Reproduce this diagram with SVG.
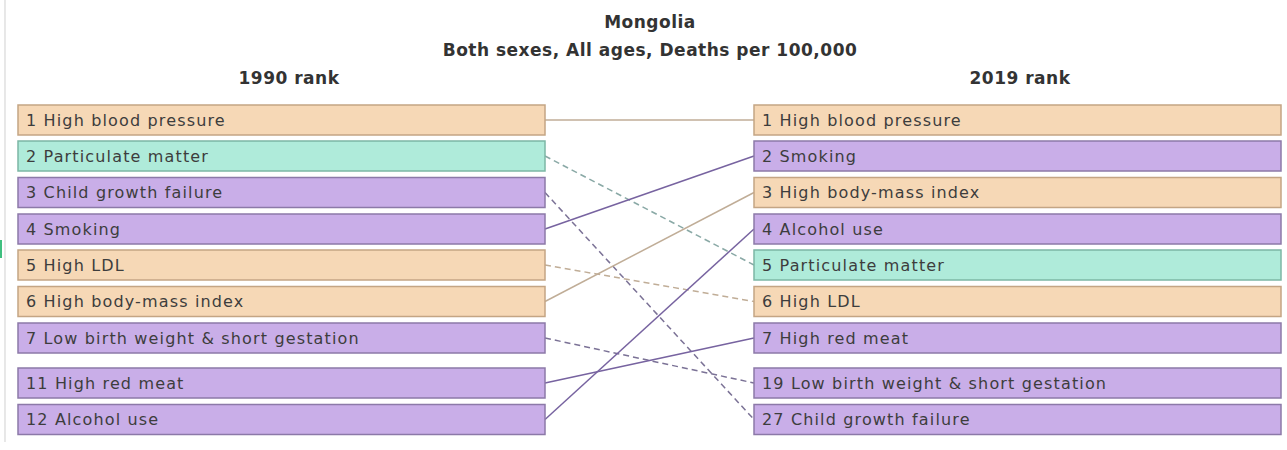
<svg xmlns="http://www.w3.org/2000/svg" width="1287" height="450" viewBox="0 0 1287 450">
<style>
  text { font-family: "DejaVu Sans", Verdana, sans-serif; fill: #3a3a3a; }
  .title { font-size: 17px; font-weight: bold; text-anchor: middle; fill: #333; letter-spacing: 0.5px; }
  .lbl { font-size: 16px; fill: #3d3d3d; letter-spacing: 1.15px; }
  .tan { fill: #f6d8b6; stroke: #c4a584; stroke-width: 1.5; }
  .pur { fill: #c9aee8; stroke: #8c79a8; stroke-width: 1.5; }
  .teal { fill: #afebda; stroke: #7cb7a5; stroke-width: 1.5; }
  .c { fill: none; stroke-width: 1.5; }
  .d { stroke-dasharray: 6 4; }
  .ctan { stroke: #c0ad97; }
  .cpur { stroke: #7763a0; }
  .cteal { stroke: #8aa9a6; }
  .cdpur { stroke: #7b7296; }
</style>
<rect x="0" y="0" width="1287" height="450" fill="#ffffff"/>
<line x1="5" y1="0" x2="5" y2="442" stroke="#d8d8d8" stroke-width="1.2"/>
<rect x="0" y="240" width="2" height="18" fill="#3fbf7f"/>

<g id="titles">
  <text class="title" x="650" y="28">Mongolia</text>
  <text class="title" x="650" y="56">Both sexes, All ages, Deaths per 100,000</text>
  <text class="title" x="289" y="84">1990 rank</text>
  <text class="title" x="1020" y="84">2019 rank</text>
</g>

<g id="connectors">
  <line class="c ctan" x1="545" y1="120" x2="754" y2="120"/>
  <line class="c cteal d" x1="545" y1="156" x2="754" y2="265"/>
  <line class="c cdpur d" x1="545" y1="192.5" x2="754" y2="419.5"/>
  <line class="c cpur" x1="545" y1="229" x2="754" y2="156"/>
  <line class="c ctan d" x1="545" y1="265" x2="754" y2="301.5"/>
  <line class="c ctan" x1="545" y1="301.5" x2="754" y2="192.5"/>
  <line class="c cdpur d" x1="545" y1="338" x2="754" y2="383"/>
  <line class="c cpur" x1="545" y1="383" x2="754" y2="338"/>
  <line class="c cpur" x1="545" y1="419.5" x2="754" y2="229"/>
</g>

<g id="l1"><rect class="tan" x="18" y="105" width="527" height="30"/><text class="lbl" x="26" y="125.5">1 High blood pressure</text></g>
<g id="l2"><rect class="teal" x="18" y="141" width="527" height="30"/><text class="lbl" x="26" y="161.5">2 Particulate matter</text></g>
<g id="l3"><rect class="pur" x="18" y="177.5" width="527" height="30"/><text class="lbl" x="26" y="198">3 Child growth failure</text></g>
<g id="l4"><rect class="pur" x="18" y="214" width="527" height="30"/><text class="lbl" x="26" y="234.5">4 Smoking</text></g>
<g id="l5"><rect class="tan" x="18" y="250" width="527" height="30"/><text class="lbl" x="26" y="270.5">5 High LDL</text></g>
<g id="l6"><rect class="tan" x="18" y="286.5" width="527" height="30"/><text class="lbl" x="26" y="307">6 High body-mass index</text></g>
<g id="l7"><rect class="pur" x="18" y="323" width="527" height="30"/><text class="lbl" x="26" y="343.5">7 Low birth weight &amp; short gestation</text></g>
<g id="l11"><rect class="pur" x="18" y="368" width="527" height="30"/><text class="lbl" x="26" y="388.5">11 High red meat</text></g>
<g id="l12"><rect class="pur" x="18" y="404.5" width="527" height="30"/><text class="lbl" x="26" y="425">12 Alcohol use</text></g>

<g id="r1"><rect class="tan" x="754" y="105" width="527" height="30"/><text class="lbl" x="762" y="125.5">1 High blood pressure</text></g>
<g id="r2"><rect class="pur" x="754" y="141" width="527" height="30"/><text class="lbl" x="762" y="161.5">2 Smoking</text></g>
<g id="r3"><rect class="tan" x="754" y="177.5" width="527" height="30"/><text class="lbl" x="762" y="198">3 High body-mass index</text></g>
<g id="r4"><rect class="pur" x="754" y="214" width="527" height="30"/><text class="lbl" x="762" y="234.5">4 Alcohol use</text></g>
<g id="r5"><rect class="teal" x="754" y="250" width="527" height="30"/><text class="lbl" x="762" y="270.5">5 Particulate matter</text></g>
<g id="r6"><rect class="tan" x="754" y="286.5" width="527" height="30"/><text class="lbl" x="762" y="307">6 High LDL</text></g>
<g id="r7"><rect class="pur" x="754" y="323" width="527" height="30"/><text class="lbl" x="762" y="343.5">7 High red meat</text></g>
<g id="r19"><rect class="pur" x="754" y="368" width="527" height="30"/><text class="lbl" x="762" y="388.5">19 Low birth weight &amp; short gestation</text></g>
<g id="r27"><rect class="pur" x="754" y="404.5" width="527" height="30"/><text class="lbl" x="762" y="425">27 Child growth failure</text></g>
</svg>
